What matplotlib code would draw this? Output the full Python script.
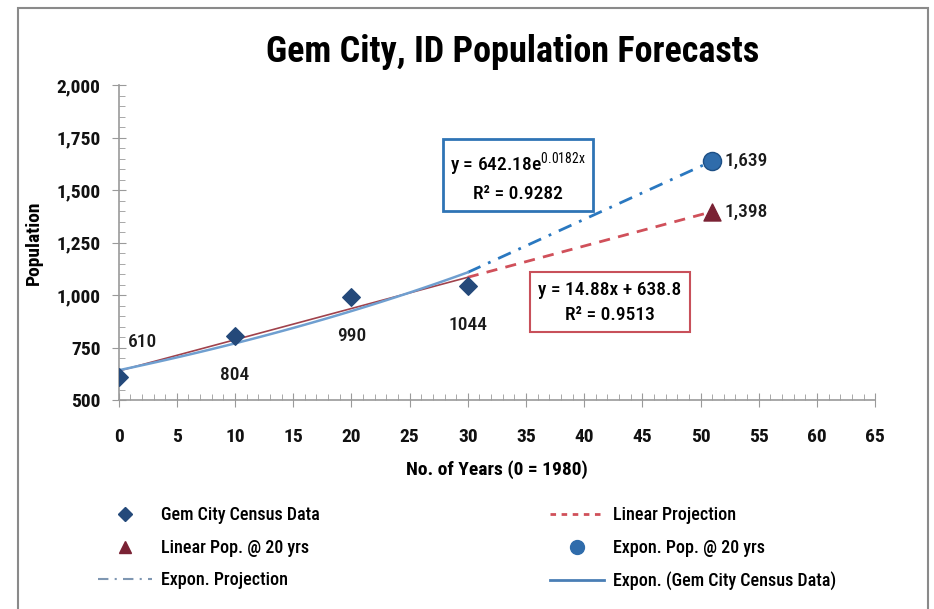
import matplotlib
matplotlib.use('Agg')
import matplotlib.pyplot as plt
import numpy as np
from matplotlib import font_manager
from matplotlib.lines import Line2D
from matplotlib.patches import Rectangle
from matplotlib.ticker import MultipleLocator, FuncFormatter

# Census data (years since 1980)
census_years = [0, 10, 20, 30]
census_pop = [610, 804, 990, 1044]
census_labels = ['610', '804', '990', '1044']

# 20-year projections
proj_year = 51
linear_proj_pop = 1398
expon_proj_pop = 1639
proj_labels = ['1,398', '1,639']

title = 'Gem City, ID Population Forecasts'
legend_left = ['Gem City Census Data', 'Linear Pop. @ 20 yrs', 'Expon. Projection']
legend_right = ['Linear Projection', 'Expon. Pop. @ 20 yrs', 'Expon. (Gem City Census Data)']

# pick a condensed font if there is one
names = {f.name for f in font_manager.fontManager.ttflist}
fam = 'Liberation Sans'
for cand in ['Roboto Condensed', 'Archivo Narrow', 'Liberation Sans Narrow']:
    if cand in names:
        fam = cand
        break
plt.rcParams['font.family'] = [fam, 'DejaVu Sans']
plt.rcParams['mathtext.fontset'] = 'custom'
plt.rcParams['mathtext.rm'] = fam
plt.rcParams['mathtext.it'] = fam

c_census = '#24497a'
c_tri = '#7a2234'
c_circ = '#2f6cab'
c_exp = '#6f9fd0'
c_exp_proj = '#2a78c0'
c_lin = '#a0424c'
c_lin_proj = '#d0505a'

fig = plt.figure(figsize=(9.34, 6.09), dpi=100)
ax = fig.add_axes([0.127, 0.343, 0.810, 0.517])

# trend lines fitted on the census data
x = np.array(census_years, dtype=float)
y = np.array(census_pop, dtype=float)
slope, icpt = np.polyfit(x, y, 1)
b, ln_a = np.polyfit(x, np.log(y), 1)
xs = np.linspace(0, 30, 50)
ax.plot(xs, slope * xs + icpt, color=c_lin, lw=1.2, zorder=2)
ax.plot(xs, np.exp(ln_a) * np.exp(b * xs), color=c_exp, lw=1.8, zorder=3)

# projections to 20 yrs out
ax.plot([30, proj_year], [slope * 30 + icpt, linear_proj_pop],
        color=c_lin_proj, lw=2, ls=(0, (4, 3)), zorder=2)
ax.plot([30, proj_year], [np.exp(ln_a + b * 30), expon_proj_pop],
        color=c_exp_proj, lw=2, ls=(0, (5, 3, 1, 3)), zorder=2)

ax.scatter(census_years, census_pop, marker='D', s=80, color=c_census, zorder=5)
ax.scatter([proj_year], [linear_proj_pop], marker='^', s=150, color=c_tri, zorder=5)
ax.scatter([proj_year], [expon_proj_pop], marker='o', s=170, color=c_circ,
           edgecolor='#1d4f85', zorder=5)

# data labels
lab_kw = dict(fontsize=14, color='#1a1a1a', fontweight='medium')
ax.annotate(census_labels[0], (census_years[0], census_pop[0]), xytext=(7, 25),
            textcoords='offset points', ha='left', va='center', **lab_kw)
for xi, yi, t in zip(census_years[1:], census_pop[1:], census_labels[1:]):
    ax.annotate(t, (xi, yi), xytext=(0, -28), textcoords='offset points',
                ha='center', va='center', **lab_kw)
ax.annotate(proj_labels[0], (proj_year, linear_proj_pop), xytext=(9, 0),
            textcoords='offset points', ha='left', va='center', **lab_kw)
ax.annotate(proj_labels[1], (proj_year, expon_proj_pop), xytext=(9, 0),
            textcoords='offset points', ha='left', va='center', **lab_kw)

# equation boxes
box_kw = dict(ha='center', va='center', fontsize=14, linespacing=1.5,
              fontweight='medium', zorder=6)
ax.text(34.3, 1563, 'y = %.2fe$^{%.4fx}$\nR² = 0.9282' % (np.exp(ln_a), b),
        bbox=dict(boxstyle='square,pad=0.38', fc='white', ec='#2f74b5', lw=2), **box_kw)
ax.text(42.2, 967, 'y = %.2fx + %.1f\nR² = 0.9513' % (slope, icpt),
        bbox=dict(boxstyle='square,pad=0.42', fc='white', ec='#c8505a', lw=1.5), **box_kw)

ax.set_xlim(0, 65)
ax.set_ylim(500, 2000)
ax.xaxis.set_major_locator(MultipleLocator(5))
ax.xaxis.set_minor_locator(MultipleLocator(1))
ax.yaxis.set_major_locator(MultipleLocator(250))
ax.yaxis.set_minor_locator(MultipleLocator(50))
ax.yaxis.set_major_formatter(FuncFormatter(lambda v, p: '{:,.0f}'.format(v)))
for s in ['top', 'right']:
    ax.spines[s].set_visible(False)
for s in ['left', 'bottom']:
    ax.spines[s].set_color('#9a9a9a')
    ax.spines[s].set_linewidth(1.2)
ax.tick_params(which='major', direction='inout', length=10, color='#9a9a9a',
               labelsize=14, labelcolor='#111111')
ax.tick_params(axis='x', which='major', pad=15)
ax.tick_params(axis='y', which='major', pad=8)
ax.tick_params(which='minor', direction='in', length=4, color='#9a9a9a')
for lbl in ax.get_xticklabels() + ax.get_yticklabels():
    lbl.set_fontweight('bold')
ax.set_xlabel('No. of Years (0 = 1980)', fontsize=14, fontweight='bold', labelpad=10)
ax.set_ylabel('Population', fontsize=14, fontweight='bold', labelpad=10)

fig.text(0.549, 0.915, title, ha='center', va='center', fontsize=26, fontweight='bold')

# legends
h_left = [
    Line2D([], [], marker='D', color=c_census, ls='none', markersize=7),
    Line2D([], [], marker='^', color=c_tri, ls='none', markersize=9),
    Line2D([], [], color='#7f97b2', lw=1.5, ls=(0, (5, 3, 1, 3))),
]
h_right = [
    Line2D([], [], color=c_lin_proj, lw=2, ls=(0, (2, 2))),
    Line2D([], [], marker='o', color=c_circ, ls='none', markersize=10),
    Line2D([], [], color='#4a7eb5', lw=2),
]
leg_kw = dict(frameon=False, handlelength=3, handletextpad=0.5,
              labelspacing=0.8, loc='upper left',
              prop={'size': 13, 'weight': 'medium'})
fig.legend(h_left, legend_left, bbox_to_anchor=(0.087, 0.195), **leg_kw)
fig.legend(h_right, legend_right, bbox_to_anchor=(0.571, 0.195), **leg_kw)

# chart border
fig.add_artist(Rectangle((0.019, -0.02), 0.975, 1.007, transform=fig.transFigure,
                         fill=False, ec='#8a8a8a', lw=1.5))

fig.savefig('out.png', dpi=100)
